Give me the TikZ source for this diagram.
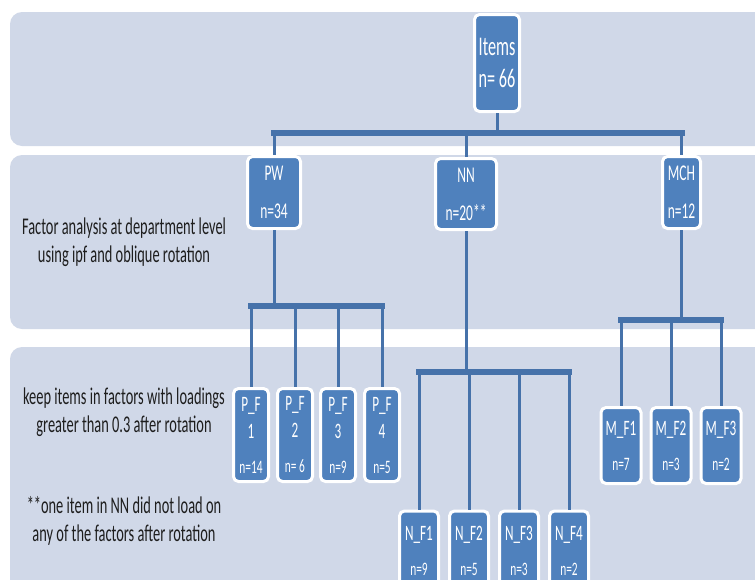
\documentclass[tikz,border=0pt]{standalone}
\usepackage{fontspec}
\setmainfont{Carlito}[FakeStretch=0.6]
\usepackage{tikz}
\usetikzlibrary{calc}
\definecolor{bandfill}{RGB}{208,216,232}
\definecolor{boxfill}{RGB}{79,129,189}
\definecolor{linkblue}{RGB}{70,114,170}
\definecolor{notegray}{RGB}{30,30,30}
\newcommand{\countfont}{\fontsize{19}{22}\selectfont}
\tikzset{%
  band/.style={fill=bandfill, draw=none, rounded corners=12pt},
  mybox/.style={rectangle, fill=boxfill, draw=white, line width=3pt, rounded corners=5pt,
    text=white, inner sep=0pt, align=center},
  topbox/.style={mybox, minimum width=45pt, minimum height=97pt, font=\fontsize{27}{32}\selectfont},
  midbox/.style={mybox, minimum height=72pt, font=\fontsize{22.5}{23}\selectfont},
  leafbox/.style={mybox, minimum width=35pt, font=\fontsize{22}{27}\selectfont},
  stem/.style={draw=linkblue, line width=3pt},
  bus/.style={draw=linkblue, line width=6pt, line cap=rect},
  note/.style={align=center, text=notegray, font=\fontsize{24}{28}\selectfont}
}

\begin{document}
\begin{tikzpicture}[x=1pt, y=-1pt]
  \useasboundingbox (0,0) rectangle (755,579);
  \clip (0,0) rectangle (755,579);
  \fill[white] (0,0) rectangle (755,579);
  % background bands
  \path[band] (10,12) rectangle (790,146);
  \path[band] (10,155) rectangle (790,329);
  \path[band] (10,347) rectangle (790,610);
  % side notes
  \node[note] (fa) at (124,242) {Factor analysis at department level\\using ipf and oblique rotation};
  \node[note] (keep) at (124,412) {keep items in factors with loadings\\greater than 0.3 after rotation};
  \node[note] (star) at (124,521) {**one item in NN did not load on\\any of the factors after rotation};
  % boxes
  \node[topbox] (items) at (497,63) {Items\\n= 66};
  \node[midbox, minimum width=53pt] (pw) at (274,192.5) {PW\\[15pt]n=34};
  \node[midbox, minimum width=61pt, minimum height=71pt] (nn) at (466,194) {NN\\[15pt]n=20**};
  \node[midbox, minimum width=38pt] (mch) at (681.5,192.5) {MCH\\[15pt]n=12};
  \node[leafbox, minimum height=93pt] (pf1) at (251,435) {P\_F\\1\\[8pt]{\countfont n=14}};
  \node[leafbox, minimum height=93pt] (pf2) at (295,435) {P\_F\\2\\[8pt]{\countfont n= 6}};
  \node[leafbox, minimum height=93pt] (pf3) at (338,435) {P\_F\\3\\[8pt]{\countfont n=9}};
  \node[leafbox, minimum height=93pt] (pf4) at (382,435) {P\_F\\4\\[8pt]{\countfont n=5}};
  \node[leafbox, minimum width=39pt, minimum height=79pt] (nf1) at (419,550.5) {N\_F1\\[8pt]{\countfont n=9}};
  \node[leafbox, minimum width=39pt, minimum height=79pt] (nf2) at (469,550.5) {N\_F2\\[8pt]{\countfont n=5}};
  \node[leafbox, minimum width=39pt, minimum height=79pt] (nf3) at (519,550.5) {N\_F3\\[8pt]{\countfont n=3}};
  \node[leafbox, minimum width=39pt, minimum height=79pt] (nf4) at (569,550.5) {N\_F4\\[8pt]{\countfont n=2}};
  \node[leafbox, minimum width=40pt, minimum height=76pt] (mf1) at (621,445.5) {M\_F1\\[8pt]{\countfont n=7}};
  \node[leafbox, minimum width=40pt, minimum height=76pt] (mf2) at (671,445.5) {M\_F2\\[8pt]{\countfont n=3}};
  \node[leafbox, minimum width=40pt, minimum height=76pt] (mf3) at (721,445.5) {M\_F3\\[8pt]{\countfont n=2}};
  % first split
  \coordinate (top) at (0,133);
  \draw[stem] (items.south) -- (items.south |- top);
  \draw[stem] (pw.north |- top) -- (pw.north);
  \draw[stem] (nn.north |- top) -- (nn.north);
  \draw[stem] (mch.north |- top) -- (mch.north);
  \draw[bus] (pw.north |- top) -- (mch.north |- top);
  % PW split
  \coordinate (pwbus) at (0,306);
  \draw[stem] (pw.south) -- (pw.south |- pwbus);
  \draw[stem] (pf1.north |- pwbus) -- (pf1.north);
  \draw[stem] (pf2.north |- pwbus) -- (pf2.north);
  \draw[stem] (pf3.north |- pwbus) -- (pf3.north);
  \draw[stem] (pf4.north |- pwbus) -- (pf4.north);
  \draw[bus] (pf1.north |- pwbus) -- (pf4.north |- pwbus);
  % NN split
  \coordinate (nnbus) at (0,372);
  \draw[stem] (nn.south) -- (nn.south |- nnbus);
  \draw[stem] (nf1.north |- nnbus) -- (nf1.north);
  \draw[stem] (nf2.north |- nnbus) -- (nf2.north);
  \draw[stem] (nf3.north |- nnbus) -- (nf3.north);
  \draw[stem] (nf4.north |- nnbus) -- (nf4.north);
  \draw[bus] (nf1.north |- nnbus) -- (nf4.north |- nnbus);
  % MCH split
  \coordinate (mchbus) at (0,319.5);
  \draw[stem] (mch.south) -- (mch.south |- mchbus);
  \draw[stem] (mf1.north |- mchbus) -- (mf1.north);
  \draw[stem] (mf2.north |- mchbus) -- (mf2.north);
  \draw[stem] (mf3.north |- mchbus) -- (mf3.north);
  \draw[bus] (mf1.north |- mchbus) -- (mf3.north |- mchbus);
\end{tikzpicture}
\end{document}
